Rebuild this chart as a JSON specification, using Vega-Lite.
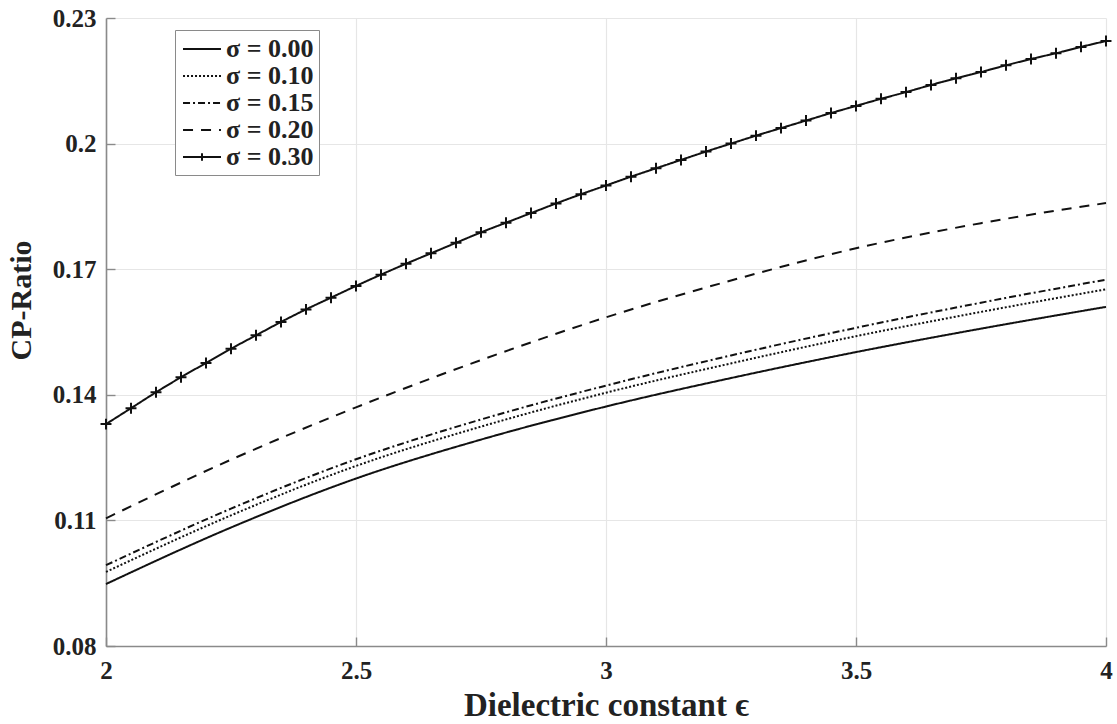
{
  "$schema": "https://vega.github.io/schema/vega-lite/v6.json",
  "width": 1000,
  "height": 628,
  "autosize": "none",
  "padding": {"left": 106, "top": 18, "right": 11, "bottom": 78},
  "background": "white",
  "config": {
    "view": {"stroke": null},
    "font": "Liberation Serif",
    "axis": {
      "labelFont": "Liberation Serif",
      "labelFontWeight": "bold",
      "labelFontSize": 25,
      "labelColor": "#222222",
      "labelFlush": false,
      "labelOverlap": false,
      "labelExpr": "'' + datum.value",
      "titleFont": "Liberation Serif",
      "titleFontWeight": "bold",
      "titleColor": "#222222",
      "domainColor": "#8a8a8a",
      "domainWidth": 1.6,
      "tickColor": "#8a8a8a",
      "tickWidth": 1.4,
      "gridColor": "#e6e6e6",
      "gridWidth": 1.2
    }
  },
  "datasets": {
    "curves": [
      {"eps": 2.0, "cp": 0.0948, "sigma": "σ = 0.00"},
      {"eps": 2.25, "cp": 0.1083, "sigma": "σ = 0.00"},
      {"eps": 2.5, "cp": 0.1200, "sigma": "σ = 0.00"},
      {"eps": 2.75, "cp": 0.1293, "sigma": "σ = 0.00"},
      {"eps": 3.0, "cp": 0.1372, "sigma": "σ = 0.00"},
      {"eps": 3.25, "cp": 0.1440, "sigma": "σ = 0.00"},
      {"eps": 3.5, "cp": 0.1502, "sigma": "σ = 0.00"},
      {"eps": 3.75, "cp": 0.1558, "sigma": "σ = 0.00"},
      {"eps": 4.0, "cp": 0.1610, "sigma": "σ = 0.00"},
      {"eps": 2.0, "cp": 0.0977, "sigma": "σ = 0.10"},
      {"eps": 2.25, "cp": 0.1112, "sigma": "σ = 0.10"},
      {"eps": 2.5, "cp": 0.1230, "sigma": "σ = 0.10"},
      {"eps": 2.75, "cp": 0.1324, "sigma": "σ = 0.10"},
      {"eps": 3.0, "cp": 0.1405, "sigma": "σ = 0.10"},
      {"eps": 3.25, "cp": 0.1475, "sigma": "σ = 0.10"},
      {"eps": 3.5, "cp": 0.1540, "sigma": "σ = 0.10"},
      {"eps": 3.75, "cp": 0.1598, "sigma": "σ = 0.10"},
      {"eps": 4.0, "cp": 0.1652, "sigma": "σ = 0.10"},
      {"eps": 2.0, "cp": 0.0993, "sigma": "σ = 0.15"},
      {"eps": 2.25, "cp": 0.1128, "sigma": "σ = 0.15"},
      {"eps": 2.5, "cp": 0.1246, "sigma": "σ = 0.15"},
      {"eps": 2.75, "cp": 0.1341, "sigma": "σ = 0.15"},
      {"eps": 3.0, "cp": 0.1422, "sigma": "σ = 0.15"},
      {"eps": 3.25, "cp": 0.1494, "sigma": "σ = 0.15"},
      {"eps": 3.5, "cp": 0.1560, "sigma": "σ = 0.15"},
      {"eps": 3.75, "cp": 0.1620, "sigma": "σ = 0.15"},
      {"eps": 4.0, "cp": 0.1675, "sigma": "σ = 0.15"},
      {"eps": 2.0, "cp": 0.1105, "sigma": "σ = 0.20"},
      {"eps": 2.25, "cp": 0.1245, "sigma": "σ = 0.20"},
      {"eps": 2.5, "cp": 0.1370, "sigma": "σ = 0.20"},
      {"eps": 2.75, "cp": 0.1483, "sigma": "σ = 0.20"},
      {"eps": 3.0, "cp": 0.1585, "sigma": "σ = 0.20"},
      {"eps": 3.25, "cp": 0.1673, "sigma": "σ = 0.20"},
      {"eps": 3.5, "cp": 0.1750, "sigma": "σ = 0.20"},
      {"eps": 3.75, "cp": 0.1810, "sigma": "σ = 0.20"},
      {"eps": 4.0, "cp": 0.1858, "sigma": "σ = 0.20"},
      {"eps": 2.0, "cp": 0.1330, "sigma": "σ = 0.30"},
      {"eps": 2.05, "cp": 0.1368, "sigma": "σ = 0.30"},
      {"eps": 2.1, "cp": 0.1406, "sigma": "σ = 0.30"},
      {"eps": 2.15, "cp": 0.1442, "sigma": "σ = 0.30"},
      {"eps": 2.2, "cp": 0.1476, "sigma": "σ = 0.30"},
      {"eps": 2.25, "cp": 0.1510, "sigma": "σ = 0.30"},
      {"eps": 2.3, "cp": 0.1542, "sigma": "σ = 0.30"},
      {"eps": 2.35, "cp": 0.1574, "sigma": "σ = 0.30"},
      {"eps": 2.4, "cp": 0.1604, "sigma": "σ = 0.30"},
      {"eps": 2.45, "cp": 0.1632, "sigma": "σ = 0.30"},
      {"eps": 2.5, "cp": 0.1660, "sigma": "σ = 0.30"},
      {"eps": 2.55, "cp": 0.1687, "sigma": "σ = 0.30"},
      {"eps": 2.6, "cp": 0.1713, "sigma": "σ = 0.30"},
      {"eps": 2.65, "cp": 0.1738, "sigma": "σ = 0.30"},
      {"eps": 2.7, "cp": 0.1763, "sigma": "σ = 0.30"},
      {"eps": 2.75, "cp": 0.1788, "sigma": "σ = 0.30"},
      {"eps": 2.8, "cp": 0.1811, "sigma": "σ = 0.30"},
      {"eps": 2.85, "cp": 0.1834, "sigma": "σ = 0.30"},
      {"eps": 2.9, "cp": 0.1857, "sigma": "σ = 0.30"},
      {"eps": 2.95, "cp": 0.1879, "sigma": "σ = 0.30"},
      {"eps": 3.0, "cp": 0.1900, "sigma": "σ = 0.30"},
      {"eps": 3.05, "cp": 0.1921, "sigma": "σ = 0.30"},
      {"eps": 3.1, "cp": 0.1941, "sigma": "σ = 0.30"},
      {"eps": 3.15, "cp": 0.1961, "sigma": "σ = 0.30"},
      {"eps": 3.2, "cp": 0.1981, "sigma": "σ = 0.30"},
      {"eps": 3.25, "cp": 0.2000, "sigma": "σ = 0.30"},
      {"eps": 3.3, "cp": 0.2019, "sigma": "σ = 0.30"},
      {"eps": 3.35, "cp": 0.2037, "sigma": "σ = 0.30"},
      {"eps": 3.4, "cp": 0.2055, "sigma": "σ = 0.30"},
      {"eps": 3.45, "cp": 0.2073, "sigma": "σ = 0.30"},
      {"eps": 3.5, "cp": 0.2090, "sigma": "σ = 0.30"},
      {"eps": 3.55, "cp": 0.2107, "sigma": "σ = 0.30"},
      {"eps": 3.6, "cp": 0.2123, "sigma": "σ = 0.30"},
      {"eps": 3.65, "cp": 0.2140, "sigma": "σ = 0.30"},
      {"eps": 3.7, "cp": 0.2156, "sigma": "σ = 0.30"},
      {"eps": 3.75, "cp": 0.2171, "sigma": "σ = 0.30"},
      {"eps": 3.8, "cp": 0.2187, "sigma": "σ = 0.30"},
      {"eps": 3.85, "cp": 0.2202, "sigma": "σ = 0.30"},
      {"eps": 3.9, "cp": 0.2216, "sigma": "σ = 0.30"},
      {"eps": 3.95, "cp": 0.2231, "sigma": "σ = 0.30"},
      {"eps": 4.0, "cp": 0.2245, "sigma": "σ = 0.30"}
    ]
  },
  "data": {"name": "curves"},
  "encoding": {
    "x": {
      "field": "eps",
      "type": "quantitative",
      "scale": {"domain": [2, 4], "nice": false, "zero": false},
      "axis": {
        "title": "Dielectric constant ϵ",
        "titleFontSize": 33,
        "values": [2, 2.5, 3, 3.5, 4],
        "tickSize": -9,
        "labelPadding": 21,
        "titlePadding": 6
      }
    },
    "y": {
      "field": "cp",
      "type": "quantitative",
      "scale": {"domain": [0.08, 0.23], "nice": false, "zero": false},
      "axis": {
        "title": "CP-Ratio",
        "titleFontSize": 30,
        "titleY": 282,
        "values": [0.08, 0.11, 0.14, 0.17, 0.2, 0.23],
        "tickSize": -9,
        "labelPadding": 19,
        "titlePadding": 16
      }
    }
  },
  "layer": [
    {
      "mark": {"type": "line", "interpolate": "monotone", "color": "#111111"},
      "encoding": {
        "strokeDash": {
          "field": "sigma",
          "type": "nominal",
          "scale": {
            "domain": ["σ = 0.00", "σ = 0.10", "σ = 0.15", "σ = 0.20", "σ = 0.30"],
            "range": [[1, 0], [2, 2], [7, 3, 2, 3], [10, 8], [1, 0]]
          },
          "legend": {
            "title": null,
            "orient": "none",
            "legendX": 69,
            "legendY": 12,
            "fillColor": "white",
            "strokeColor": "#8a8a8a",
            "padding": 5,
            "symbolType": "M-1.5,0H1.5",
            "symbolSize": 640,
            "symbolOffset": 8,
            "symbolStrokeWidth": 2,
            "symbolStrokeColor": "#111111",
            "labelFont": "Liberation Serif",
            "labelFontWeight": "bold",
            "labelFontSize": 26,
            "labelColor": "#222222",
            "labelOffset": 10,
            "rowPadding": 0,
            "encode": {
              "symbols": {
                "update": {
                  "shape": [
                    {"test": "datum.value === 'σ = 0.30'", "value": "M-1.5,0H1.5M0,-0.3V0.3"},
                    {"value": "M-1.5,0H1.5"}
                  ]
                }
              }
            }
          }
        },
        "strokeWidth": {
          "field": "sigma",
          "type": "nominal",
          "scale": {
            "domain": ["σ = 0.00", "σ = 0.10", "σ = 0.15", "σ = 0.20", "σ = 0.30"],
            "range": [2, 2, 2, 2, 2.6]
          },
          "legend": null
        }
      }
    },
    {
      "transform": [{"filter": "datum.sigma === 'σ = 0.30'"}],
      "mark": {
        "type": "point",
        "shape": "M-1,0H1M0,-1V1",
        "filled": false,
        "stroke": "#111111",
        "strokeWidth": 2,
        "size": 120,
        "opacity": 1
      }
    }
  ]
}
